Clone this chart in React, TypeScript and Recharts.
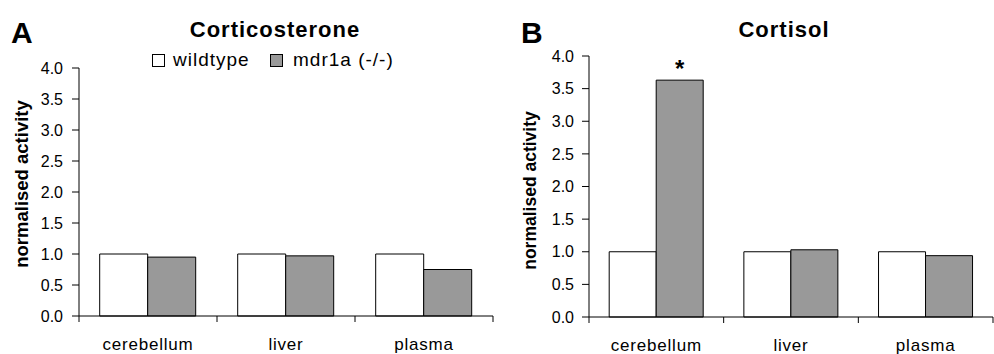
import React from "react";
import { Bar, BarChart, LabelList, XAxis, YAxis } from "recharts";

const categories = ["cerebellum", "liver", "plasma"];
const seriesNames = ["wildtype", "mdr1a (-/-)"];
const seriesFills = ["#ffffff", "#999999"];

const corticosteroneWildtype = [1, 1, 1];
const corticosteroneMdr1a = [0.95, 0.97, 0.75];
const cortisolWildtype = [1, 1, 1];
const cortisolMdr1a = [3.63, 1.03, 0.94];
const cortisolSignificance = ["*", "", ""];

const yTicks = [0, 0.5, 1, 1.5, 2, 2.5, 3, 3.5, 4];

const FONT = "'Liberation Sans', Arial, Helvetica, sans-serif";

// category label plus the tick marks at the band edges (Excel style)
function EdgeTick(props: any) {
  const { x, y, payload, index, visibleTicksCount, labelY } = props;
  const half = payload.offset || 0;
  const last = index === visibleTicksCount - 1;
  return (
    <g>
      <line x1={x - half} x2={x - half} y1={y} y2={y + 6} stroke="#000" />
      {last && <line x1={x + half} x2={x + half} y1={y} y2={y + 6} stroke="#000" />}
      <text
        x={x}
        y={y + labelY}
        textAnchor="middle"
        fill="#000"
        fontSize={17}
        fontFamily={FONT}
        letterSpacing={0.8}
      >
        {payload.value}
      </text>
    </g>
  );
}

type PanelProps = {
  wt: number[];
  ko: number[];
  sig?: string[];
  left: number;
  margin: { top: number; right: number; bottom: number; left: number };
  tickSize: number;
  tickMargin: number;
  labelSize: number;
  labelDx: number;
  labelDy: number;
  xLabelY: number;
};

function Panel(p: PanelProps) {
  const data = categories.map((name, i) => ({
    name,
    wt: p.wt[i],
    ko: p.ko[i],
    sig: p.sig ? p.sig[i] : "",
  }));
  return (
    <div style={{ position: "absolute", left: p.left, top: 0 }}>
      <BarChart
        width={497}
        height={354}
        data={data}
        margin={p.margin}
        barCategoryGap="15%"
        barGap={0}
      >
        <XAxis
          dataKey="name"
          height={1}
          axisLine={{ stroke: "#000" }}
          tickLine={false}
          tickSize={0}
          tickMargin={0}
          tick={(t: any) => <EdgeTick {...t} labelY={p.xLabelY} />}
          interval={0}
        />
        <YAxis
          width={60}
          domain={[0, 4]}
          ticks={yTicks}
          interval={0}
          tickFormatter={(v: number) => v.toFixed(1)}
          tick={{ fill: "#000", fontSize: 16, fontFamily: FONT }}
          tickSize={p.tickSize}
          tickMargin={p.tickMargin}
          axisLine={{ stroke: "#000" }}
          tickLine={{ stroke: "#000" }}
          label={{
            value: "normalised activity",
            angle: -90,
            position: "center",
            dx: p.labelDx,
            dy: p.labelDy,
            fill: "#000",
            fontSize: p.labelSize,
            fontWeight: "bold",
            fontFamily: FONT,
          }}
        />
        <Bar
          dataKey="wt"
          name={seriesNames[0]}
          fill={seriesFills[0]}
          stroke="#000"
          strokeWidth={1}
          isAnimationActive={false}
        />
        <Bar
          dataKey="ko"
          name={seriesNames[1]}
          fill={seriesFills[1]}
          stroke="#000"
          strokeWidth={1}
          isAnimationActive={false}
        >
          {p.sig && (
            <LabelList
              dataKey="sig"
              position="top"
              offset={3}
              fill="#000"
              fontSize={24}
              fontWeight="bold"
              fontFamily={FONT}
            />
          )}
        </Bar>
      </BarChart>
    </div>
  );
}

export default function App() {
  return (
    <div style={{ position: "relative", width: 994, height: 354, background: "#fff", fontFamily: FONT }}>
      <style>{"body{margin:0}"}</style>
      <Panel
        wt={corticosteroneWildtype}
        ko={corticosteroneMdr1a}
        left={0}
        margin={{ top: 68, right: 4, bottom: 37, left: 19 }}
        tickSize={7}
        tickMargin={9}
        labelSize={18.5}
        labelDx={-28}
        labelDy={-8}
        xLabelY={34}
      />
      <Panel
        wt={cortisolWildtype}
        ko={cortisolMdr1a}
        sig={cortisolSignificance}
        left={497}
        margin={{ top: 56, right: 1, bottom: 36, left: 32 }}
        tickSize={7}
        tickMargin={8}
        labelSize={17.5}
        labelDx={-29}
        labelDy={4}
        xLabelY={34}
      />
      <svg
        width={994}
        height={354}
        style={{ position: "absolute", left: 0, top: 0, pointerEvents: "none" }}
        fontFamily={FONT}
      >
        <text x={11} y={43} fontSize={30} fontWeight="bold">A</text>
        <text x={521} y={43} fontSize={30} fontWeight="bold">B</text>
        <text x={275} y={37} fontSize={22} fontWeight="bold" textAnchor="middle" letterSpacing={1}>
          Corticosterone
        </text>
        <text x={784} y={37} fontSize={22} fontWeight="bold" textAnchor="middle" letterSpacing={1}>
          Cortisol
        </text>
        {seriesNames.map((name, i) => (
          <g key={name}>
            <rect
              x={152.5 + i * 118}
              y={54.5}
              width={12}
              height={12}
              fill={seriesFills[i]}
              stroke="#000"
            />
            <text x={173 + i * 120} y={66} fontSize={19} letterSpacing={1}>
              {name}
            </text>
          </g>
        ))}
      </svg>
    </div>
  );
}
